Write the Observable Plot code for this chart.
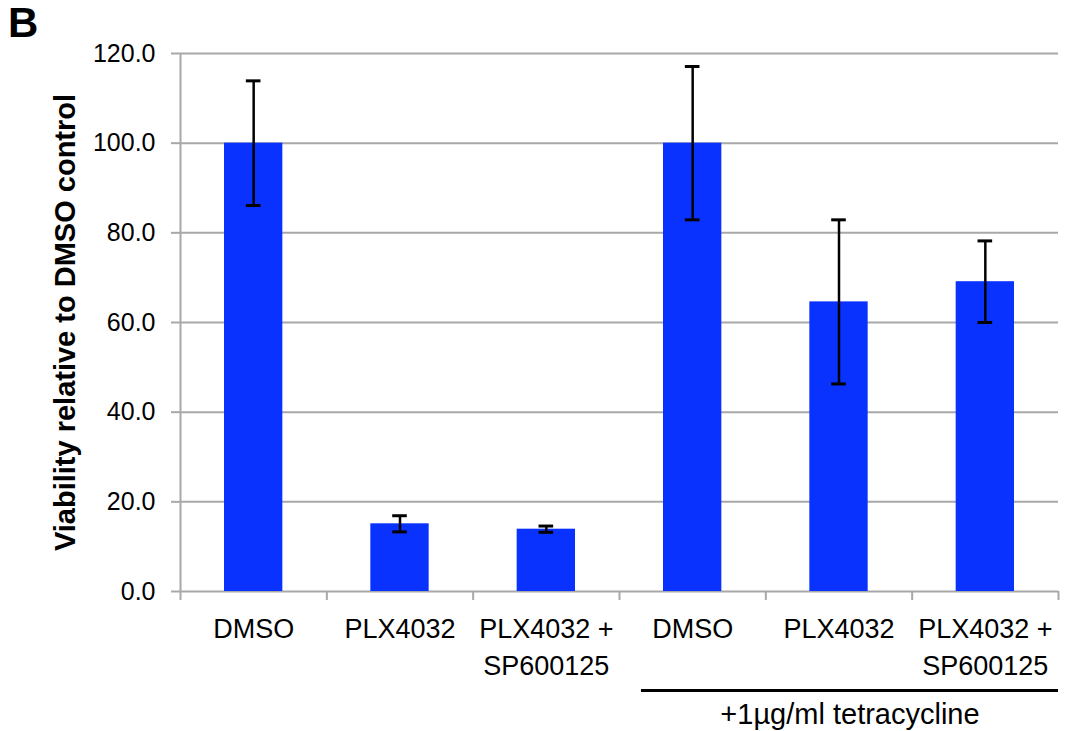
<!DOCTYPE html>
<html><head><meta charset="utf-8">
<script src="https://cdn.jsdelivr.net/npm/d3@7"></script>
<script src="https://cdn.jsdelivr.net/npm/@observablehq/plot@0.6"></script>
<style>
body{margin:0;background:#fff;font-family:"Liberation Sans",Arial,sans-serif}
#wrap{position:relative;width:1066px;height:731px}
#tag{position:absolute;left:8px;top:2px;font-weight:bold;font-size:42px;line-height:1}
</style>
</head><body><div id="wrap"><div id="tag">B</div></div>
<script>
const categories = ["DMSO", "PLX4032", "PLX4032 +\nSP600125", "DMSO", "PLX4032", "PLX4032 +\nSP600125"];
const viability = [100, 15.1, 13.9, 100, 64.6, 69.1];
const errors = [13.9, 1.8, 0.7, 17.1, 18.3, 9.1];
const yTicks = [0, 20, 40, 60, 80, 100, 120];
const yLabel = "Viability relative to DMSO control";
const groupLabel = "+1µg/ml tetracycline";
const groupSpan = [3.15, 6];

const data = categories.map((c, i) => ({i, c, v: viability[i], lo: viability[i] - errors[i], hi: viability[i] + errors[i]}));
const grey = "#a8a8a8";

const chart = Plot.plot({
  width: 1066, height: 731,
  marginLeft: 180, marginRight: 8, marginTop: 53, marginBottom: 140,
  style: {fontFamily: "'Liberation Sans', Arial, sans-serif", background: "white"},
  x: {type: "linear", domain: [0, categories.length], axis: null},
  y: {domain: [0, 120], axis: null},
  marks: [
    Plot.gridY(yTicks, {stroke: grey, strokeOpacity: 1, strokeWidth: 2}),
    Plot.axisY(yTicks, {tickSize: 9, tickPadding: 16, stroke: grey, strokeWidth: 2, fill: "black", fontSize: 25, tickFormat: d3.format(".1f"), label: null}),
    Plot.ruleX([0], {stroke: grey, strokeWidth: 2}),
    Plot.axisX(d3.range(categories.length + 1), {tickSize: 9, stroke: grey, strokeWidth: 2, tickFormat: () => "", label: null}),
    Plot.rectY(data, {x1: "i", x2: d => d.i + 1, y: "v", fill: "#0a32ff", insetLeft: 44, insetRight: 44}),
    Plot.ruleX(data, {x: d => d.i + 0.5, y1: "lo", y2: "hi", stroke: "black", strokeWidth: 2.5}),
    Plot.ruleY(data, {y: "hi", x1: d => d.i + 0.45, x2: d => d.i + 0.55, stroke: "black", strokeWidth: 3}),
    Plot.ruleY(data, {y: "lo", x1: d => d.i + 0.45, x2: d => d.i + 0.55, stroke: "black", strokeWidth: 3}),
    Plot.text(data, {x: d => d.i + 0.5, y: 0, text: "c", dy: 20, lineAnchor: "top", lineHeight: 1.38, fontSize: 27, fill: "black"}),
    Plot.ruleY([0], {x1: groupSpan[0], x2: groupSpan[1], dy: 99, stroke: "black", strokeWidth: 3}),
    Plot.text([groupLabel], {x: (groupSpan[0] + groupSpan[1]) / 2, y: 0, dy: 123, fontSize: 29, fill: "black"}),
    Plot.text([yLabel], {frameAnchor: "left", textAnchor: "middle", rotate: -90, dx: -115, fontWeight: "bold", fontSize: 29, fill: "black"})
  ]
});
document.getElementById("wrap").appendChild(chart);
</script>
</body></html>
